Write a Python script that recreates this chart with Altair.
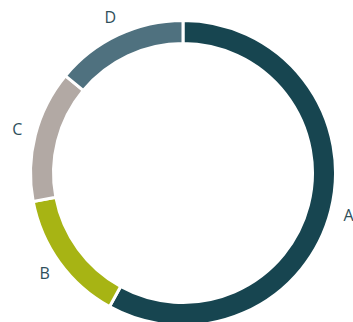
import altair as alt
import pandas as pd

categories = ["A", "B", "C", "D"]
values = [58, 14, 14, 14]
colors = ["#174550", "#A7B414", "#B2A9A4", "#4F717F"]

df = pd.DataFrame({"cat": categories, "value": values})

base = alt.Chart(df).encode(
    theta=alt.Theta("value:Q", stack=True),
    order=alt.Order("cat:N", sort="ascending"),
    x=alt.value(183),
    y=alt.value(173),
)

arc = base.mark_arc(outerRadius=152.5, innerRadius=129.5, stroke="white", strokeWidth=3).encode(
    color=alt.Color("cat:N", scale=alt.Scale(domain=categories, range=colors), legend=None)
)

text = base.mark_text(radius=171, font="Open Sans", fontSize=16, fontWeight="normal", color="#2F4F5B").encode(
    text="cat:N"
)

chart = (arc + text).properties(
    width=353, height=322, padding=0, autosize=alt.AutoSizeParams(type="none")
).configure_view(stroke=None)

chart.save("out.html", embed_options={"renderer": "svg", "actions": False})
